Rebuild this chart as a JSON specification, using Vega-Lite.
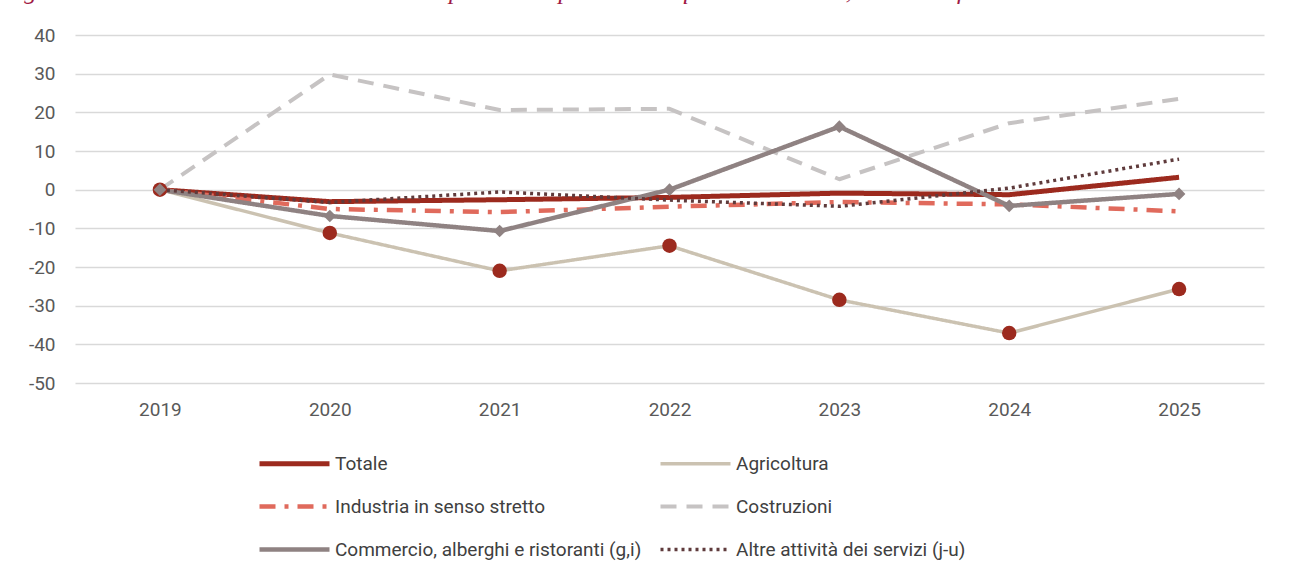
{
  "$schema": "https://vega.github.io/schema/vega-lite/v6.json",
  "width": 1189,
  "height": 348,
  "autosize": {"type": "none"},
  "padding": {"left": 75, "top": 35, "right": 28, "bottom": 195},
  "background": "white",
  "title": {
    "text": "Figura 10: Variazione % del numero di occupati e occupato nei cinque macrosettori, anno di riferimento 2019",
    "anchor": "start",
    "frame": "group",
    "orient": "top",
    "baseline": "alphabetic",
    "offset": 2,
    "dx": -73,
    "font": "Liberation Serif",
    "fontStyle": "italic",
    "fontWeight": "normal",
    "fontSize": 25,
    "color": "#A01A45"
  },
  "config": {
    "view": {"stroke": null},
    "font": "Roboto"
  },
  "data": {
    "values": [
      {"anno": "2019", "serie": "Totale", "valore": 0},
      {"anno": "2020", "serie": "Totale", "valore": -3.1},
      {"anno": "2021", "serie": "Totale", "valore": -2.6},
      {"anno": "2022", "serie": "Totale", "valore": -2.0},
      {"anno": "2023", "serie": "Totale", "valore": -0.9},
      {"anno": "2024", "serie": "Totale", "valore": -1.3},
      {"anno": "2025", "serie": "Totale", "valore": 3.2},
      {"anno": "2019", "serie": "Agricoltura", "valore": 0},
      {"anno": "2020", "serie": "Agricoltura", "valore": -11.2},
      {"anno": "2021", "serie": "Agricoltura", "valore": -21.0},
      {"anno": "2022", "serie": "Agricoltura", "valore": -14.5},
      {"anno": "2023", "serie": "Agricoltura", "valore": -28.5},
      {"anno": "2024", "serie": "Agricoltura", "valore": -37.1},
      {"anno": "2025", "serie": "Agricoltura", "valore": -25.7},
      {"anno": "2019", "serie": "Industria in senso stretto", "valore": 0},
      {"anno": "2020", "serie": "Industria in senso stretto", "valore": -5.0},
      {"anno": "2021", "serie": "Industria in senso stretto", "valore": -5.8},
      {"anno": "2022", "serie": "Industria in senso stretto", "valore": -4.4},
      {"anno": "2023", "serie": "Industria in senso stretto", "valore": -3.2},
      {"anno": "2024", "serie": "Industria in senso stretto", "valore": -3.8},
      {"anno": "2025", "serie": "Industria in senso stretto", "valore": -5.6},
      {"anno": "2019", "serie": "Costruzioni", "valore": 0},
      {"anno": "2020", "serie": "Costruzioni", "valore": 29.8},
      {"anno": "2021", "serie": "Costruzioni", "valore": 20.6},
      {"anno": "2022", "serie": "Costruzioni", "valore": 20.9},
      {"anno": "2023", "serie": "Costruzioni", "valore": 2.7},
      {"anno": "2024", "serie": "Costruzioni", "valore": 17.2},
      {"anno": "2025", "serie": "Costruzioni", "valore": 23.5},
      {"anno": "2019", "serie": "Commercio, alberghi e ristoranti (g,i)", "valore": 0},
      {"anno": "2020", "serie": "Commercio, alberghi e ristoranti (g,i)", "valore": -6.8},
      {"anno": "2021", "serie": "Commercio, alberghi e ristoranti (g,i)", "valore": -10.7},
      {"anno": "2022", "serie": "Commercio, alberghi e ristoranti (g,i)", "valore": 0},
      {"anno": "2023", "serie": "Commercio, alberghi e ristoranti (g,i)", "valore": 16.3},
      {"anno": "2024", "serie": "Commercio, alberghi e ristoranti (g,i)", "valore": -4.2},
      {"anno": "2025", "serie": "Commercio, alberghi e ristoranti (g,i)", "valore": -1.1},
      {"anno": "2019", "serie": "Altre attività dei servizi (j-u)", "valore": 0},
      {"anno": "2020", "serie": "Altre attività dei servizi (j-u)", "valore": -3.3},
      {"anno": "2021", "serie": "Altre attività dei servizi (j-u)", "valore": -0.6},
      {"anno": "2022", "serie": "Altre attività dei servizi (j-u)", "valore": -2.7},
      {"anno": "2023", "serie": "Altre attività dei servizi (j-u)", "valore": -4.3},
      {"anno": "2024", "serie": "Altre attività dei servizi (j-u)", "valore": 0.4},
      {"anno": "2025", "serie": "Altre attività dei servizi (j-u)", "valore": 7.9}
    ]
  },
  "encoding": {
    "x": {
      "field": "anno", "type": "ordinal",
      "scale": {"type": "point", "padding": 0.5},
      "axis": {"title": null, "labelAngle": 0, "domain": false, "ticks": false, "grid": false, "labelPadding": 17, "labelFontSize": 19, "labelColor": "#595959", "labelFont": "Roboto"}
    },
    "y": {
      "field": "valore", "type": "quantitative",
      "scale": {"domain": [-50, 40], "nice": false},
      "axis": {"title": null, "values": [-50, -40, -30, -20, -10, 0, 10, 20, 30, 40], "labelExpr": "'' + datum.value", "domain": false, "ticks": false, "labelPadding": 20, "labelFontSize": 19, "labelColor": "#595959", "labelFont": "Roboto", "gridColor": "#D9D9D9", "gridWidth": 1.5}
    }
  },
  "layer": [
    {
      "mark": {"type": "line", "strokeJoin": "round"},
      "encoding": {
        "color": {
          "field": "serie", "type": "nominal",
          "scale": {
            "domain": ["Totale", "Agricoltura", "Industria in senso stretto", "Costruzioni", "Commercio, alberghi e ristoranti (g,i)", "Altre attività dei servizi (j-u)"],
            "range": ["#9C2A1E", "#CBC2B1", "#E06A5C", "#C6C3C3", "#8F8282", "#5F3B3C"]
          },
          "legend": {"orient": "none", "legendX": 182, "legendY": 419, "columns": 2, "direction": "horizontal", "title": null, "symbolType": "M-1,0H9", "symbolSize": 196, "labelFontSize": 19, "labelFont": "Roboto", "labelColor": "#404040", "labelOffset": 59, "rowPadding": 23, "columnPadding": 10, "labelLimit": 0}
        },
        "strokeDash": {
          "field": "serie", "type": "nominal",
          "scale": {
            "domain": ["Totale", "Agricoltura", "Industria in senso stretto", "Costruzioni", "Commercio, alberghi e ristoranti (g,i)", "Altre attività dei servizi (j-u)"],
            "range": [[1, 0], [1, 0], [16, 9, 4, 9], [16, 10], [1, 0], [3, 4]]
          },
          "legend": {"orient": "none", "legendX": 182, "legendY": 419, "columns": 2, "direction": "horizontal", "title": null, "symbolType": "M-1,0H9", "symbolSize": 196, "labelFontSize": 19, "labelFont": "Roboto", "labelColor": "#404040", "labelOffset": 59, "rowPadding": 23, "columnPadding": 10, "labelLimit": 0}
        },
        "strokeWidth": {
          "field": "serie", "type": "nominal",
          "scale": {
            "type": "ordinal",
            "domain": ["Totale", "Agricoltura", "Industria in senso stretto", "Costruzioni", "Commercio, alberghi e ristoranti (g,i)", "Altre attività dei servizi (j-u)"],
            "range": [5, 3.5, 4.5, 4, 4.5, 3.5]
          },
          "legend": {"orient": "none", "legendX": 182, "legendY": 419, "columns": 2, "direction": "horizontal", "title": null, "symbolType": "M-1,0H9", "symbolSize": 196, "labelFontSize": 19, "labelFont": "Roboto", "labelColor": "#404040", "labelOffset": 59, "rowPadding": 23, "columnPadding": 10, "labelLimit": 0}
        }
      }
    },
    {
      "transform": [{"filter": "datum.serie === 'Agricoltura'"}],
      "mark": {"type": "point", "shape": "circle", "filled": true, "size": 210, "color": "#9C2A1E", "opacity": 1},
      "encoding": {}
    },
    {
      "transform": [{"filter": "datum.serie === 'Commercio, alberghi e ristoranti (g,i)'"}],
      "mark": {"type": "point", "shape": "diamond", "filled": true, "size": 160, "color": "#8F8282", "opacity": 1},
      "encoding": {}
    }
  ]
}
